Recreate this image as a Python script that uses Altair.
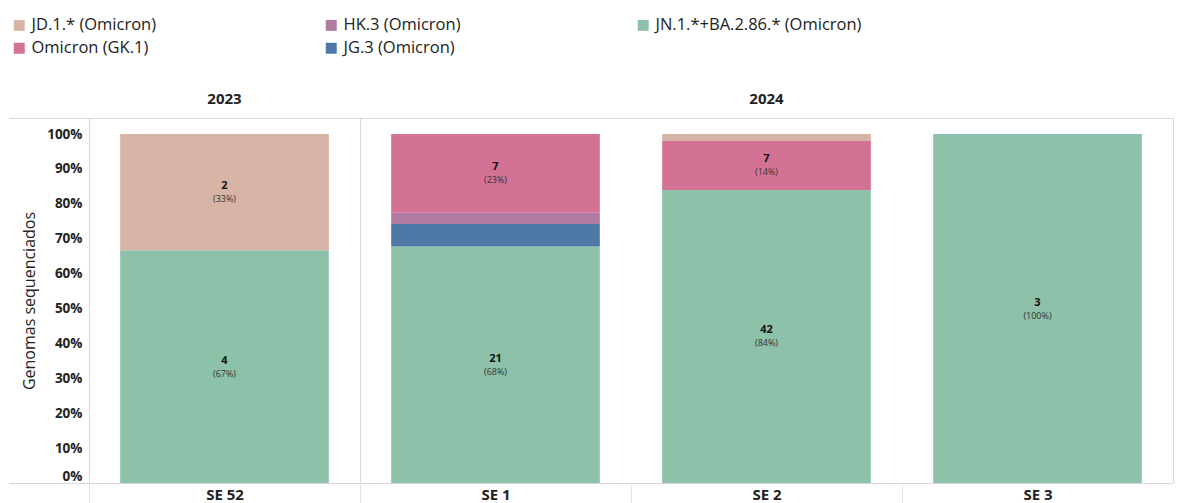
import altair as alt
import pandas as pd

weeks = ["SE 52", "SE 1", "SE 2", "SE 3"]
years = ["2023", "2024", "2024", "2024"]

# stacking order bottom -> top
variants = [
    "JN.1.*+BA.2.86.* (Omicron)",
    "JG.3 (Omicron)",
    "HK.3 (Omicron)",
    "Omicron (GK.1)",
    "JD.1.* (Omicron)",
]
counts_jn1 = [4, 21, 42, 3]
counts_jg3 = [0, 2, 0, 0]
counts_hk3 = [0, 1, 0, 0]
counts_gk1 = [0, 7, 7, 0]
counts_jd1 = [2, 0, 1, 0]
series = [counts_jn1, counts_jg3, counts_hk3, counts_gk1, counts_jd1]

legend_order = [
    "JD.1.* (Omicron)",
    "HK.3 (Omicron)",
    "JN.1.*+BA.2.86.* (Omicron)",
    "Omicron (GK.1)",
    "JG.3 (Omicron)",
]
legend_colors = ["#d7b5a6", "#b07aa1", "#8dc1a9", "#d37295", "#4e79a7"]

y_ticks = [0, 0.1, 0.2, 0.3, 0.4, 0.5, 0.6, 0.7, 0.8, 0.9, 1.0, 1.046]

rows = []
for vi, (v, vals) in enumerate(zip(variants, series)):
    for w, y, c in zip(weeks, years, vals):
        if c > 0:
            rows.append({"week": w, "year": y, "variant": v, "count": c, "order": vi})
df = pd.DataFrame(rows)

FONT = "Open Sans"
LINE = "#d9d9d9"
STEP = 271

x_scale = alt.Scale(paddingInner=0.23, paddingOuter=0.115)
x_axis = alt.Axis(
    labelAngle=0,
    labelFontSize=15,
    labelFontWeight="bold",
    labelColor="#222222",
    labelFont=FONT,
    labelPadding=-18,
    labelOffset=STEP / 2,
    domain=False,
    ticks=True,
    tickOffset=-STEP / 2,
    tickColor="#e6e6e6",
    tickSize=22,
)

y_scale = alt.Scale(domain=[0, 1.046], nice=False)
y_title = "Genomas sequenciados"
y_axis = alt.Axis(
    values=y_ticks,
    labelExpr="datum.value > 1.01 ? '' : format(datum.value, '.0%')",
    labelOverlap=False,
    grid=False,
    ticks=True,
    tickSize=80,
    tickColor=LINE,
    tickOpacity=alt.condition("datum.value == 0 || datum.value > 1.01", alt.value(1), alt.value(0)),
    domain=False,
    labelFontSize=13.5,
    labelFontWeight="bold",
    labelColor="#222222",
    labelFont=FONT,
    labelPadding=-73,
    labelBaseline=alt.condition("datum.value == 0", alt.value("bottom"), alt.value("middle")),
    titleFontSize=16,
    titleFontWeight="normal",
    titleColor="#222222",
    titleFont=FONT,
    titleX=-52,
)

bars = alt.Chart().mark_bar().encode(
    x=alt.X("week:N", sort=weeks, title=None, scale=x_scale, axis=x_axis),
    y=alt.Y("y0:Q", title=y_title, scale=y_scale, axis=y_axis),
    y2="y1:Q",
    color=alt.Color(
        "variant:N",
        scale=alt.Scale(domain=legend_order, range=legend_colors),
        legend=alt.Legend(title=None),
    ),
)

labels = alt.Chart().transform_filter("datum.pct > 0.1")

txt_n = labels.mark_text(dy=-6, fontSize=11, fontWeight="bold", color="#111111", font=FONT).encode(
    x=alt.X("week:N", sort=weeks, title=None, scale=x_scale, axis=x_axis),
    y=alt.Y("mid:Q", title=y_title, scale=y_scale, axis=y_axis),
    text="count:Q",
)
txt_p = labels.mark_text(dy=7, fontSize=9, color="#333333", font=FONT).encode(
    x=alt.X("week:N", sort=weeks, title=None, scale=x_scale, axis=x_axis),
    y=alt.Y("mid:Q", title=y_title, scale=y_scale, axis=y_axis),
    text="plab:N",
)

layer = (
    alt.layer(bars, txt_n, txt_p)
    .transform_joinaggregate(total="sum(count)", groupby=["week"])
    .transform_calculate(pct="datum.count / datum.total")
    .transform_stack(stack="pct", groupby=["week"], sort=[alt.SortField("order", "ascending")], as_=["y0", "y1"])
    .transform_calculate(mid="(datum.y0 + datum.y1) / 2", plab="'(' + format(datum.pct, '.0%') + ')'")
    .properties(width=alt.Step(STEP), height=365)
)

chart = (
    layer.facet(
        data=df,
        column=alt.Column(
            "year:N",
            title=None,
            header=alt.Header(
                labelFontSize=15,
                labelFontWeight="bold",
                labelColor="#222222",
                labelFont=FONT,
                labelPadding=11,
            ),
        ),
        spacing=0,
        bounds="flush",
    )
    .resolve_scale(x="independent")
    .properties(padding={"left": 0, "top": 9, "right": 0, "bottom": 0})
    .configure_view(stroke=LINE)
    .configure_legend(
        orient="none",
        legendX=-78,
        legendY=-101,
        direction="horizontal",
        columns=3,
        gridAlign="all",
        columnPadding=85,
        rowPadding=6,
        padding=0,
        symbolType="square",
        symbolSize=120,
        symbolStrokeWidth=0,
        labelFontSize=16.5,
        labelFont=FONT,
        labelColor="#222222",
        labelLimit=400,
    )
)

chart.save("out.html", embed_options={"renderer": "svg", "actions": False})
